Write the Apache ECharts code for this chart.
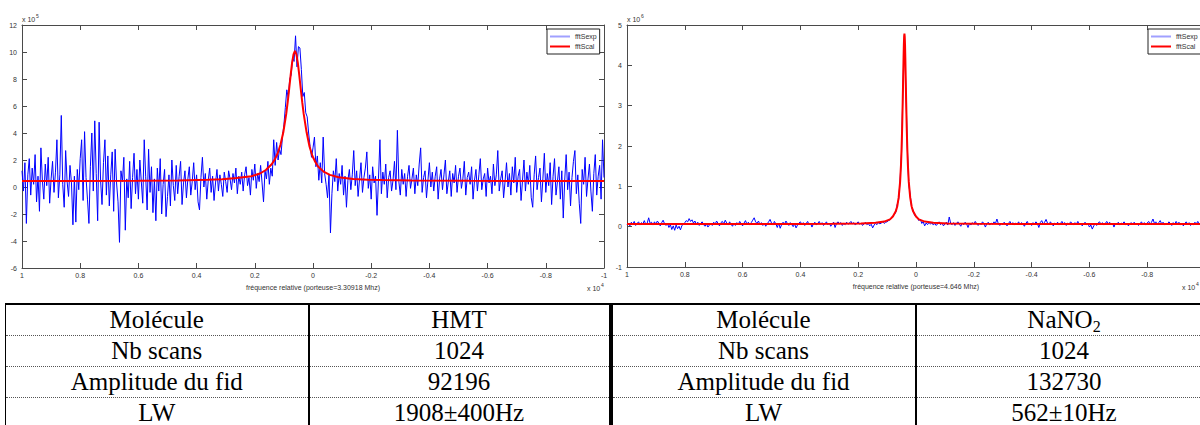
<!DOCTYPE html>
<html>
<head>
<meta charset="utf-8">
<script src="https://cdn.jsdelivr.net/npm/echarts/dist/echarts.min.js"></script>
<style>
html,body{margin:0;padding:0;background:#fff;width:1200px;height:425px;overflow:hidden;position:relative}
#chart{position:absolute;left:0;top:0;width:1240px;height:300px}
#tbl{position:absolute;left:5px;top:303px;border-collapse:collapse;table-layout:fixed;width:1206px;
  font-family:'Liberation Serif','Times New Roman',serif;font-size:25px;color:#000}
#tbl td{height:30px;padding:0;text-align:center;vertical-align:middle;border-bottom:1px dotted #555;white-space:nowrap;line-height:24px}
#tbl tr:first-child td{border-top:2px solid #000}
#tbl td.c0{border-left:1px solid #000;border-right:2px solid #000}
#tbl td.c1{border-right:4px solid #000}
#tbl td.c2{border-right:2px solid #000}
#tbl sub{font-size:16px;vertical-align:-4px;line-height:0}
</style>
</head>
<body>
<div id="chart"></div>
<table id="tbl">
<colgroup><col style="width:303px"><col style="width:302px"><col style="width:305px"><col style="width:296px"></colgroup>
<tbody id="tbody"></tbody>
</table>
<script>
// ---------- DATA ----------
// frequency axis ticks (x 10^4, relative frequency)
const xTicks = [1, 0.8, 0.6, 0.4, 0.2, 0, -0.2, -0.4, -0.6, -0.8, -1];
const seriesNames = ['fftSexp', 'fftScal'];

// HMT: experimental spectrum (x 10^5), evenly spaced from x=1 to x=-1
const hmtExp = [
1.2,-0.3,1.8,-2.7,0.9,2.1,-0.6,1.4,0.2,2.4,-1.1,0.8,-1.8,2.9,0.5,-0.9,1.7,0.1,2.2,-1.2,
0.6,1.9,-0.4,1.1,3.5,-0.8,0.9,5.3,0.2,-1.5,2.7,0.4,-0.7,1.6,0.3,-2.8,0.8,-2.6,1.3,-0.2,
2.1,3.5,-1.0,4.1,0.7,-0.9,-2.7,1.5,4.0,-0.3,4.9,1.0,-2.5,4.8,0.5,-1.3,1.8,3.5,-0.6,2.3,
-1.4,0.9,2.6,-1.8,2.8,0.3,-1.1,-4.1,1.2,0.4,2.2,-3.2,0.6,-0.8,1.9,-1.6,0.7,2.5,-0.5,1.3,
-0.9,2.0,0.4,-1.2,3.5,0.8,-1.7,2.8,-0.4,1.5,-1.9,0.6,-2.5,1.4,-0.3,2.1,-2.0,0.2,1.3,-2.2,
-0.7,0.9,-1.4,2.0,0.1,-1.0,1.6,-0.5,0.8,1.9,-1.3,0.3,1.2,-0.8,0.6,1.5,-0.6,0.4,1.8,-0.2,
0.9,-1.1,-1.7,0.7,2.2,0.0,1.0,-0.9,0.5,1.4,-0.4,0.8,-1.0,0.3,1.3,-0.3,0.9,0.2,-0.7,1.1,
0.4,-0.4,1.2,0.6,-0.2,1.0,0.3,1.4,-0.5,0.8,0.2,1.1,-0.3,0.9,1.5,0.1,0.7,-0.6,1.3,0.5,
1.7,-0.1,1.0,0.4,1.6,0.3,-1.1,1.2,0.6,1.9,0.2,1.4,0.8,3.5,1.6,3.3,2.0,2.8,2.4,3.7,
4.6,5.9,7.2,6.6,8.0,8.3,9.6,9.3,11.2,8.9,10.4,10.3,8.7,6.7,7.0,5.5,5.2,4.0,3.0,2.2,
2.9,3.7,1.5,2.3,0.5,1.8,0.3,3.7,1.0,0.2,-0.8,0.9,-3.4,-0.5,1.2,0.4,2.1,-0.3,1.0,0.2,
1.6,-0.6,0.8,-1.5,0.5,1.3,-0.2,0.9,2.7,0.1,1.2,-0.7,0.6,1.8,-0.4,0.7,1.4,2.6,-0.1,0.9,
-0.9,1.5,0.3,0.8,-2.1,0.6,3.5,-0.5,1.1,0.2,1.7,-0.8,0.7,1.2,-0.3,0.5,1.9,-0.2,4.2,0.4,
-0.6,1.3,0.2,1.0,-0.7,0.8,1.6,-0.1,0.6,1.4,-0.5,0.9,0.1,1.7,2.9,-0.4,0.7,1.2,-0.8,0.5,
1.8,0.0,1.1,-0.3,0.8,1.5,-0.9,0.6,1.3,-0.2,0.9,2.0,-0.5,0.4,1.2,-0.7,1.0,0.3,1.6,-0.4,
0.8,1.4,-0.1,0.6,1.9,-0.6,0.7,1.1,0.2,1.5,-0.9,0.5,1.3,-0.3,0.9,2.1,-0.2,0.6,1.0,-0.7,
1.4,0.3,0.8,-0.5,1.7,0.1,0.9,2.7,-0.3,0.6,1.2,-0.8,0.4,1.8,0.0,1.0,-0.6,1.5,0.3,2.2,
-0.4,0.8,1.3,-1.0,0.5,2.0,-0.3,1.1,0.2,1.6,-0.8,-1.5,0.9,2.3,-0.2,0.7,1.4,-1.1,0.6,2.5,
-0.4,1.0,0.1,1.8,-1.3,0.8,2.1,-0.6,0.4,1.5,-0.9,1.2,-2.3,0.5,2.4,-0.2,1.1,-1.4,0.7,1.9,
2.7,-0.5,0.9,-1.2,-2.7,1.3,0.2,2.2,-0.7,0.6,1.7,-0.3,-1.8,1.0,2.4,-0.6,0.8,1.6,-0.9,3.5,0.7
];

// HMT: fitted Lorentzian (x 10^5), [x, y] points
const hmtFit = [
[1,0.44],[0.8,0.45],[0.6,0.46],[0.462,0.49],[0.362,0.53],[0.312,0.58],[0.262,0.66],[0.212,0.8],
[0.182,1.0],[0.162,1.26],[0.142,1.69],[0.132,2.01],[0.122,2.46],[0.112,3.11],[0.102,4.05],[0.092,5.41],
[0.087,6.28],[0.082,7.24],[0.077,8.25],[0.072,9.17],[0.067,9.83],[0.062,10.08],[0.057,9.83],[0.052,9.17],
[0.047,8.25],[0.042,7.24],[0.037,6.28],[0.032,5.41],[0.022,4.05],[0.012,3.0],[0.002,2.3],[-0.008,1.85],
[-0.018,1.5],[-0.038,1.12],[-0.058,0.9],[-0.088,0.72],[-0.138,0.6],[-0.188,0.54],[-0.238,0.51],
[-0.338,0.48],[-0.538,0.46],[-0.738,0.45],[-1,0.44]
];

// NaNO2: experimental spectrum (x 10^6), evenly spaced from x=1 to x=-1
const nano2Exp = [
0.05,0.09,0.02,0.11,0.06,0.13,0.03,0.08,0.12,0.04,0.10,0.07,0.15,0.05,0.09,0.22,0.08,0.11,0.04,0.12,
0.06,0.14,0.09,0.02,0.10,0.16,0.07,0.03,0.08,-0.02,0.05,-0.07,0.02,-0.09,0.04,-0.05,0.01,-0.08,0.03,0.06,
0.10,0.15,0.12,0.20,0.13,0.17,0.09,0.14,0.06,0.11,0.03,0.08,0.12,0.05,0.01,0.07,-0.01,0.04,0.09,0.03,
0.11,0.06,0.14,0.08,0.02,0.10,0.13,0.07,0.16,0.09,0.04,0.12,0.06,0.01,0.08,0.03,0.10,0.05,0.13,0.07,
0.02,0.09,0.15,0.06,0.11,0.04,0.10,0.16,0.22,0.12,0.08,0.14,0.05,0.10,0.03,0.09,0.01,0.07,0.12,0.18,
0.09,0.04,0.13,0.07,-0.02,0.09,-0.04,0.05,0.11,0.06,0.14,0.08,0.03,0.10,0.05,0.00,0.07,-0.03,0.04,0.09,
0.12,0.06,0.10,0.03,0.08,0.13,0.05,0.09,-0.01,0.07,0.11,0.04,0.08,0.13,0.06,0.10,0.03,0.07,0.12,0.05,
0.09,0.01,0.06,0.11,-0.02,0.08,0.12,0.07,0.10,0.03,0.08,0.05,0.11,0.06,0.09,0.13,0.07,0.10,0.04,0.08,
0.12,0.06,0.09,0.03,0.07,0.11,0.05,0.08,0.02,0.06,-0.03,0.04,0.08,0.05,0.10,0.07,0.09,0.12,0.08,0.11,
0.12,0.15,0.17,0.22,0.27,0.30,0.36,0.55,0.68,1.15,1.85,3.50,4.75,3.40,1.95,1.05,0.78,0.47,0.41,0.28,
0.27,0.22,0.15,0.19,0.08,0.12,0.02,0.09,0.05,0.11,0.06,0.10,0.04,0.08,0.03,0.07,0.12,0.05,0.09,0.02,
0.07,0.11,0.04,0.24,0.08,0.05,0.10,0.03,0.08,0.12,0.06,0.01,0.09,0.05,0.11,0.07,-0.02,0.08,0.04,0.10,
0.06,0.13,0.07,0.03,0.09,0.05,0.12,0.08,-0.01,0.07,0.11,0.04,0.09,0.06,0.12,0.08,0.19,0.07,0.03,0.09,
0.05,0.11,0.07,0.02,0.08,0.13,0.06,0.10,0.04,0.09,0.06,0.12,0.05,0.10,0.07,0.01,0.08,0.13,0.05,0.09,
0.03,0.10,0.06,0.12,0.08,-0.02,0.10,0.15,0.07,0.11,0.18,0.09,0.05,0.12,0.07,0.02,0.09,0.06,0.11,0.04,
0.08,0.13,0.07,0.10,0.03,0.09,0.06,0.12,0.08,0.04,0.10,0.06,0.13,0.05,0.09,0.02,0.07,0.11,0.05,0.08,
-0.01,0.04,-0.06,0.02,0.07,0.03,0.09,0.12,0.06,0.10,0.04,0.08,0.13,0.07,0.11,0.05,0.09,-0.01,0.08,0.06,
0.11,0.04,0.09,0.07,0.12,0.05,0.08,0.02,0.07,0.10,0.06,0.11,0.05,0.09,0.03,0.07,0.12,0.06,0.10,0.04,
0.09,0.13,0.07,0.11,0.19,0.08,0.12,0.05,0.10,0.15,0.07,0.11,0.04,0.09,0.06,0.12,0.08,0.03,0.10,0.06,
0.13,0.07,0.11,0.04,0.09,0.02,0.08,0.12,0.06,0.10,0.03,0.08,0.05,0.11,0.07,0.13,0.06,0.10,0.04,0.09,0.07
];

// NaNO2: fitted Lorentzian (x 10^6), [x, y] points
const nano2Fit = [
[1,0.065],[0.6,0.066],[0.4,0.068],[0.29,0.07],[0.19,0.078],[0.14,0.095],[0.11,0.126],[0.09,0.18],
[0.08,0.25],[0.07,0.38],[0.065,0.5],[0.06,0.72],[0.055,1.11],[0.052,1.52],[0.05,1.91],[0.048,2.43],
[0.046,3.09],[0.045,3.46],[0.044,3.84],[0.043,4.2],[0.042,4.51],[0.041,4.71],[0.04,4.785],[0.039,4.71],
[0.038,4.51],[0.037,4.2],[0.036,3.84],[0.035,3.46],[0.034,3.09],[0.032,2.43],[0.03,1.91],[0.028,1.52],
[0.025,1.11],[0.02,0.72],[0.015,0.5],[0.01,0.38],[0,0.25],[-0.01,0.18],[-0.03,0.126],[-0.06,0.095],
[-0.11,0.078],[-0.21,0.07],[-0.46,0.067],[-1,0.065]
];

// Table
const tableLabels = ['Molécule', 'Nb scans', 'Amplitude du fid', 'LW'];
const hmtInfo = ['HMT', '1024', '92196', '1908±400Hz'];
const nano2Info = ['NaNO<sub>2</sub>', '1024', '132730', '562±10Hz'];

// ---------- TABLE ----------
const tb = document.getElementById('tbody');
tableLabels.forEach((lab, r) => {
  const tr = document.createElement('tr');
  tr.innerHTML = '<td class="c0">' + lab + '</td><td class="c1">' + hmtInfo[r] +
    '</td><td class="c2">' + lab + '</td><td class="c3">' + nano2Info[r] + '</td>';
  tb.appendChild(tr);
});

// ---------- CHART ----------
const FONT = "'Liberation Sans', Arial, sans-serif";
const axisCol = '#4a4a4a';
const labCol = '#333';
function toPairs(arr) {
  const n = arr.length;
  return arr.map((v, i) => [1 - 2 * i / (n - 1), v]);
}
function fmt(v) { const r = Math.round(v * 10) / 10; return String(r === 0 ? 0 : r); }

function xAxes(g, name, showMin) {
  const base = {
    gridIndex: g, type: 'value', min: -1, max: 1, interval: 0.2, inverse: true,
    axisLine: { show: true, onZero: false, lineStyle: { color: axisCol, width: 1 } },
    axisTick: { show: true, inside: true, length: 5, lineStyle: { color: axisCol } },
    splitLine: { show: false }
  };
  return [
    Object.assign({}, base, {
      position: 'bottom',
      axisLabel: { fontSize: 7, color: labCol, margin: 4, fontFamily: FONT, formatter: fmt,
                   showMinLabel: showMin, showMaxLabel: true },
      name: name, nameLocation: 'middle', nameGap: 10,
      nameTextStyle: { fontSize: 7, color: labCol, fontFamily: FONT }
    }),
    Object.assign({}, base, { position: 'top', axisLabel: { show: false } })
  ];
}
function yAxes(g, min, max, interval) {
  const base = {
    gridIndex: g, type: 'value', min: min, max: max, interval: interval,
    axisLine: { show: true, onZero: false, lineStyle: { color: axisCol, width: 1 } },
    axisTick: { show: true, inside: true, length: 5, lineStyle: { color: axisCol } },
    splitLine: { show: false }
  };
  return [
    Object.assign({}, base, {
      position: 'left',
      axisLabel: { fontSize: 7, color: labCol, margin: 5, fontFamily: FONT, formatter: fmt }
    }),
    Object.assign({}, base, { position: 'right', axisLabel: { show: false } })
  ];
}
function legend(left) {
  return {
    orient: 'vertical', left: left, top: 29, selectedMode: false,
    icon: 'rect',
    data: [
      { name: seriesNames[0], itemStyle: { color: '#a0a0ff' } },
      { name: seriesNames[1], itemStyle: { color: '#ff0000' } }
    ],
    borderColor: '#222', borderWidth: 1, backgroundColor: '#fff',
    padding: [4, 3, 4, 3], itemGap: 3, itemWidth: 20, itemHeight: 2,
    textStyle: { fontSize: 7, color: labCol, fontFamily: FONT }
  };
}
function expText(left, top, base, sup) {
  return [
    { type: 'text', left: left, top: top, style: { text: base, fontSize: 7, fill: labCol, fontFamily: FONT } },
    { type: 'text', left: left + 14, top: top - 3, style: { text: sup, fontSize: 5, fill: labCol, fontFamily: FONT } }
  ];
}

const chart = echarts.init(document.getElementById('chart'), null, { renderer: 'svg' });
const xa = xAxes(0, 'fréquence relative (porteuse=3.30918 Mhz)', true)
  .concat(xAxes(1, 'fréquence relative (porteuse=4.646 Mhz)', false));
const ya = yAxes(0, -6, 12, 2).concat(yAxes(1, -1, 5, 1));
const blue = { color: '#0000ff', width: 1 };
const red = { color: '#ff0000', width: 2 };
chart.setOption({
  animation: false,
  backgroundColor: '#fff',
  grid: [
    { left: 22, top: 25, width: 582, height: 243 },
    { left: 627, top: 25, width: 578, height: 242 }
  ],
  xAxis: xa,
  yAxis: ya,
  legend: [legend(547), legend(1148)],
  graphic: [].concat(
    expText(22, 16, 'x 10', '5'),
    expText(627, 16, 'x 10', '6'),
    expText(587, 285, 'x 10', '4'),
    expText(1182, 284, 'x 10', '4')
  ),
  series: [
    { name: seriesNames[0], type: 'line', xAxisIndex: 0, yAxisIndex: 0, data: toPairs(hmtExp),
      symbol: 'none', showSymbol: false, lineStyle: blue, itemStyle: { color: '#0000ff' } },
    { name: seriesNames[1], type: 'line', xAxisIndex: 0, yAxisIndex: 0, data: hmtFit,
      symbol: 'none', showSymbol: false, lineStyle: red, itemStyle: { color: '#ff0000' } },
    { name: seriesNames[0], type: 'line', xAxisIndex: 2, yAxisIndex: 2, data: toPairs(nano2Exp),
      symbol: 'none', showSymbol: false, lineStyle: blue, itemStyle: { color: '#0000ff' } },
    { name: seriesNames[1], type: 'line', xAxisIndex: 2, yAxisIndex: 2, data: nano2Fit,
      symbol: 'none', showSymbol: false, lineStyle: red, itemStyle: { color: '#ff0000' } }
  ]
});
</script>
</body>
</html>
